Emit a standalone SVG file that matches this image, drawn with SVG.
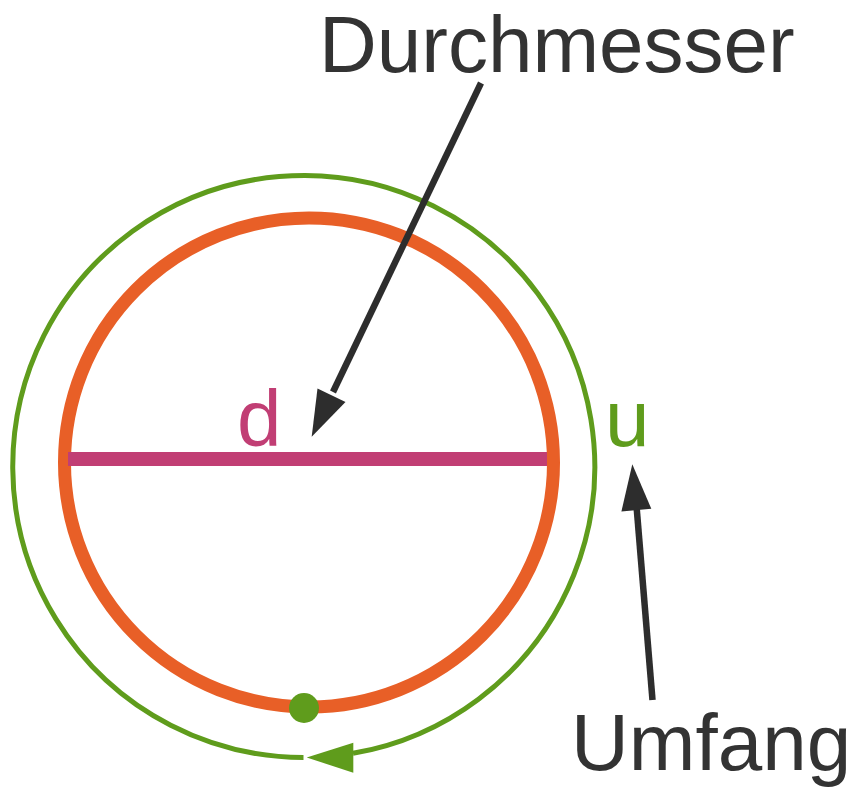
<svg xmlns="http://www.w3.org/2000/svg" width="853" height="788" viewBox="0 0 853 788">
  <style>
    .lbl { font-family: "Liberation Sans", Arial, sans-serif; font-size: 80px; }
    .dark { fill: #333333; }
    .arrowline { stroke: #2d2d2d; stroke-width: 6.5; fill: none; stroke-linecap: butt; }
    .arrowhead { fill: #2d2d2d; }
  </style>
  <rect width="853" height="788" fill="#ffffff"/>

  <g id="umfang-circle">
    <path d="M 353 753.3 A 291 291 0 1 0 303.5 757.5" fill="none" stroke="#5f9c1c" stroke-width="5"/>
    <polygon points="306.7,757.5 353.3,742.7 353.3,772.7" fill="#5f9c1c"/>
  </g>

  <g id="kreis">
    <circle cx="309" cy="462.5" r="244.5" fill="none" stroke="#e85f27" stroke-width="13"/>
  </g>

  <g id="durchmesser-linie">
    <line x1="68" y1="459" x2="547" y2="459" stroke="#c13e74" stroke-width="14"/>
  </g>

  <g id="punkt">
    <circle cx="304" cy="708" r="15" fill="#5f9c1c"/>
  </g>

  <g id="label-d">
    <text class="lbl" x="237" y="446" fill="#c13e74">d</text>
  </g>

  <g id="label-u">
    <text class="lbl" x="605" y="446" fill="#5f9c1c">u</text>
  </g>

  <g id="label-durchmesser">
    <text class="lbl dark" x="319" y="72">Durchmesser</text>
  </g>

  <g id="label-umfang">
    <text class="lbl dark" x="571" y="770">Umfang</text>
  </g>

  <g id="connectors">
    <line class="arrowline" x1="481" y1="83" x2="333" y2="392"/>
    <polygon class="arrowhead" points="311.7,436.7 317.5,388.5 345.5,401.9"/>
    <line class="arrowline" x1="652.5" y1="700" x2="636.5" y2="506"/>
    <polygon class="arrowhead" points="632.3,464.3 621.4,511.5 651.3,508.8"/>
  </g>
</svg>
